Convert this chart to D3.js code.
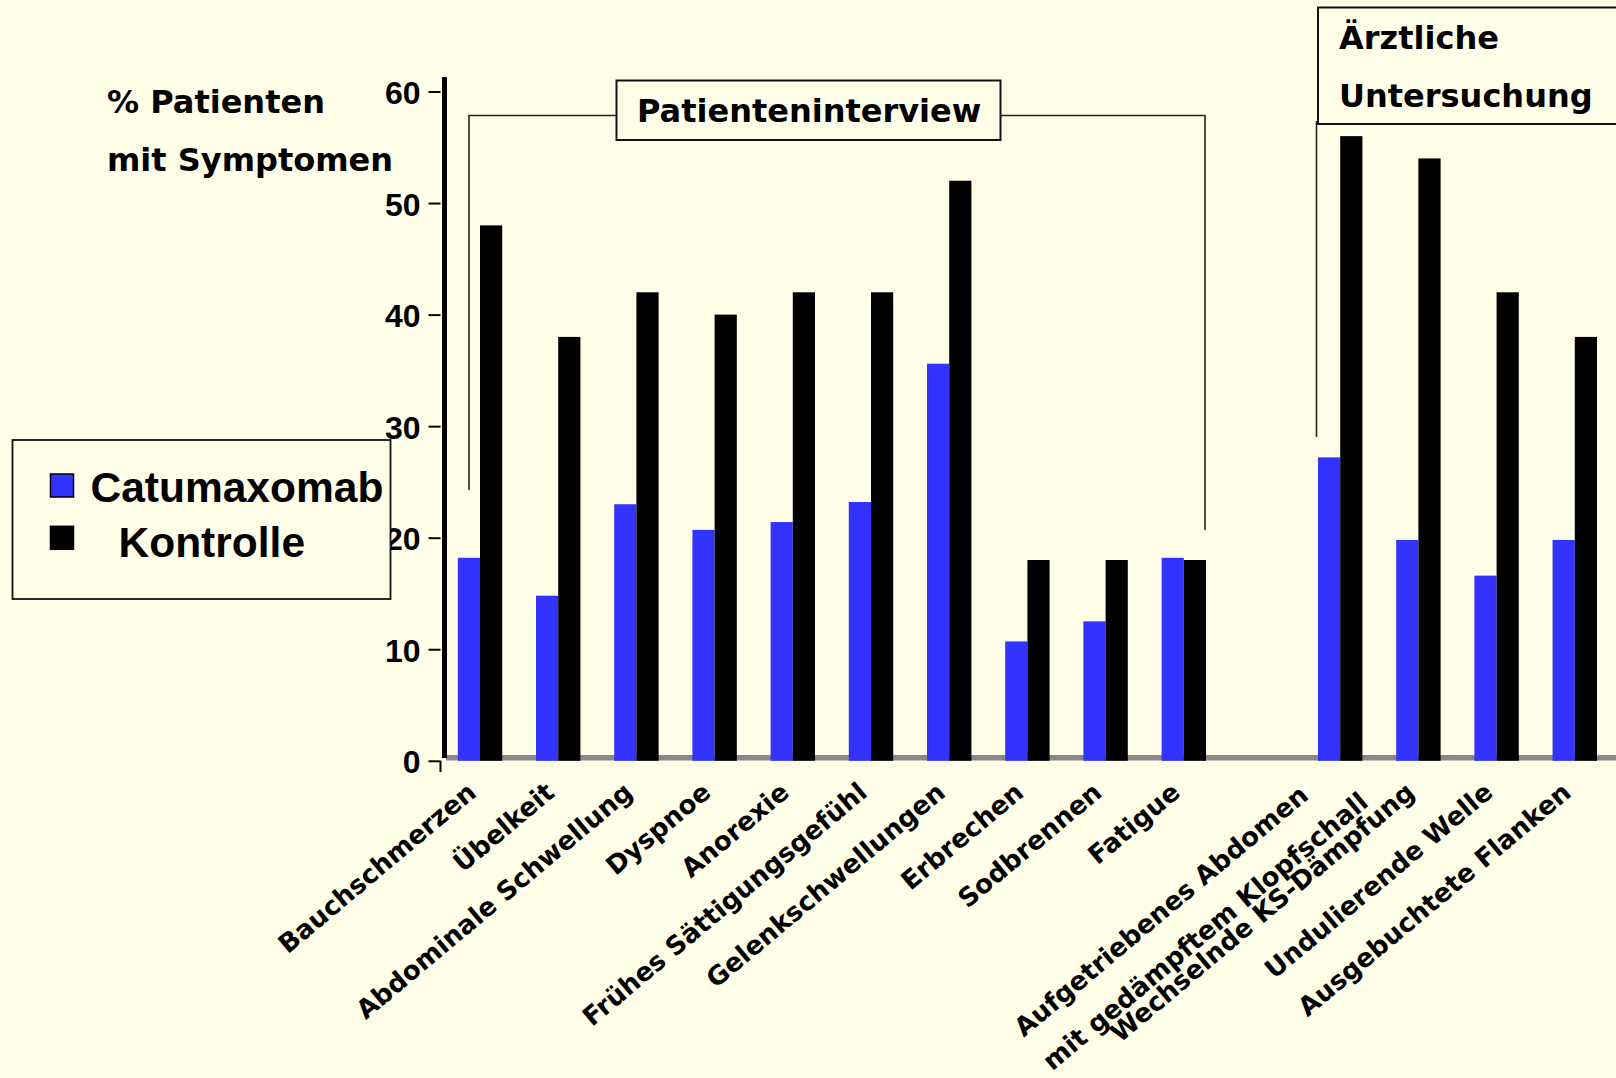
<!DOCTYPE html>
<html lang="de">
<head>
<meta charset="utf-8">
<script src="https://cdn.jsdelivr.net/npm/d3@7"></script>
<style>
  html, body { margin: 0; padding: 0; background: #fffee9; }
  svg { display: block; }
</style>
</head>
<body>
<svg id="chart" width="1616" height="1078"></svg>
<script>
// Symptome bei Aszites: Anteil der Patienten je Gruppe (in %)
const categories = [
  "Bauchschmerzen", "Übelkeit", "Abdominale Schwellung", "Dyspnoe", "Anorexie",
  "Frühes Sättigungsgefühl", "Gelenkschwellungen", "Erbrechen", "Sodbrennen", "Fatigue",
  "",
  "Aufgetriebenes Abdomen\nmit gedämpftem Klopfschall", "Wechselnde KS-Dämpfung",
  "Undulierende Welle", "Ausgebuchtete Flanken"
];
const catumaxomab = [18.2, 14.8, 23.0, 20.7, 21.4, 23.2, 35.6, 10.7, 12.5, 18.2, null, 27.2, 19.8, 16.6, 19.8];
const kontrolle   = [48, 38, 42, 40, 42, 42, 52, 18, 18, 18, null, 56, 54, 42, 38];
const seriesNames = ["Catumaxomab", "Kontrolle"];
const seriesColors = ["#3333ff", "#000000"];
const yTicks = [0, 10, 20, 30, 40, 50, 60];
const yTitle = ["% Patienten", "mit Symptomen"];
const groupTitles = ["Patienteninterview", ["Ärztliche", "Untersuchung"]];

const svg = d3.select("#chart");
const BOLD_SANS = "'DejaVu Sans', Verdana, sans-serif";
const ARIAL = "'Liberation Sans', Arial, sans-serif";
const TITLE_FS = 32;

const y = d3.scaleLinear().domain([0, 60]).range([760.8, 91.5]);
const x = d3.scaleBand()
  .domain(d3.range(categories.length))
  .range([457.8, 1597])
  .paddingInner(0.432)
  .paddingOuter(0);
const xs = d3.scaleBand().domain(seriesNames).range([0, x.bandwidth()]);

// grey floor line
svg.append("rect")
  .attr("x", 446).attr("y", 755).attr("width", 1616 - 446).attr("height", 5.5)
  .attr("fill", "#888888");

// bars
const rows = categories.map((c, i) => ({ i, values: [catumaxomab[i], kontrolle[i]] }))
  .filter(d => d.values[0] != null);

const groups = svg.append("g").selectAll("g").data(rows).join("g")
  .attr("transform", d => `translate(${x(d.i)},0)`);
groups.selectAll("rect")
  .data(d => d.values.map((v, k) => ({ name: seriesNames[k], v, k })))
  .join("rect")
  .attr("x", d => xs(d.name))
  .attr("width", xs.bandwidth())
  .attr("y", d => y(d.v))
  .attr("height", d => y(0) - y(d.v))
  .attr("fill", d => seriesColors[d.k]);

// y axis
const yAxis = d3.axisLeft(y).tickValues(yTicks).tickSize(12).tickPadding(8);
const ga = svg.append("g").attr("transform", "translate(440.5,0)").call(yAxis);
ga.select(".domain").remove();
ga.selectAll(".tick line").attr("stroke", "#000").attr("stroke-width", 2);
ga.selectAll(".tick text")
  .attr("font-family", ARIAL).attr("font-weight", "bold").attr("font-size", 32)
  .attr("fill", "#000").attr("dy", "0.38em");
// small hook under the zero tick
svg.append("line").attr("x1", 440.5).attr("x2", 440.5).attr("y1", y(0)).attr("y2", 772)
  .attr("stroke", "#000").attr("stroke-width", 2);
svg.append("line").attr("x1", 444.5).attr("x2", 444.5).attr("y1", 77).attr("y2", 758)
  .attr("stroke", "#000").attr("stroke-width", 5);

// y title
svg.append("text")
  .attr("font-family", BOLD_SANS).attr("font-weight", "bold").attr("font-size", TITLE_FS).attr("fill", "#000")
  .selectAll("tspan").data(yTitle).join("tspan")
  .attr("x", 107).attr("y", (d, i) => 113 + i * 58).text(d => d);

// category labels
const LABEL_FS = 26, LABEL_ANGLE = -40, LINE_H = 44;
const labelG = svg.append("g")
  .attr("font-family", BOLD_SANS).attr("font-weight", "bold").attr("font-size", LABEL_FS).attr("fill", "#000");
categories.forEach((c, i) => {
  if (!c) return;
  const lines = c.split("\n");
  const cx = x(i) + x.bandwidth() / 2;
  const g = labelG.append("g").attr("transform", `translate(${cx - 8},788) rotate(${LABEL_ANGLE})`);
  if (lines.length === 1) {
    g.append("text").attr("text-anchor", "end").attr("dy", "0.35em").text(c);
  } else {
    const t = g.append("text").attr("text-anchor", "start");
    const spans = t.selectAll("tspan").data(lines).join("tspan").text(d => d);
    const maxLen = d3.max(spans.nodes(), n => n.getComputedTextLength());
    spans.attr("x", -maxLen + 18)
      .attr("y", (d, j) => (j - (lines.length - 1) / 2) * LINE_H + 0.35 * LABEL_FS + 6);
  }
});

// brackets framing the two groups
const bracket = svg.append("g").attr("fill", "none").attr("stroke", "#222").attr("stroke-width", 1.6);
bracket.append("path").attr("d", "M469,490 V115.5 H616");
bracket.append("path").attr("d", "M1001,115.5 H1205 V530");
bracket.append("path").attr("d", "M1316.5,437 V121");

// group title boxes
svg.append("rect").attr("x", 616.5).attr("y", 80.5).attr("width", 384).attr("height", 59.5)
  .attr("fill", "#fffee9").attr("stroke", "#111").attr("stroke-width", 2);
svg.append("text").attr("x", 637).attr("y", 121.7)
  .attr("font-family", BOLD_SANS).attr("font-weight", "bold").attr("font-size", TITLE_FS).attr("fill", "#000")
  .text(groupTitles[0]);

svg.append("rect").attr("x", 1318).attr("y", 7.5).attr("width", 320).attr("height", 116.5)
  .attr("fill", "#fffee9").attr("stroke", "#111").attr("stroke-width", 2);
svg.append("text")
  .attr("font-family", BOLD_SANS).attr("font-weight", "bold").attr("font-size", TITLE_FS).attr("fill", "#000")
  .selectAll("tspan").data(groupTitles[1]).join("tspan")
  .attr("x", 1339).attr("y", (d, i) => 49 + i * 58).text(d => d);

// legend
const lg = svg.append("g");
lg.append("rect").attr("x", 12.5).attr("y", 440).attr("width", 378).attr("height", 159)
  .attr("fill", "#fffee9").attr("stroke", "#111").attr("stroke-width", 1.8);
const legendText = [{ x: 90.5, y: 502 }, { x: 118.5, y: 557 }];
seriesNames.forEach((name, k) => {
  lg.append("rect").attr("x", 50.5).attr("y", 474 + k * 52.3).attr("width", 23).attr("height", 23)
    .attr("fill", seriesColors[k]).attr("stroke", "#000").attr("stroke-width", 1.5);
  lg.append("text").attr("x", legendText[k].x).attr("y", legendText[k].y)
    .attr("font-family", ARIAL).attr("font-weight", "bold").attr("font-size", 42.5).attr("fill", "#000")
    .text(name);
});
</script>
</body>
</html>
